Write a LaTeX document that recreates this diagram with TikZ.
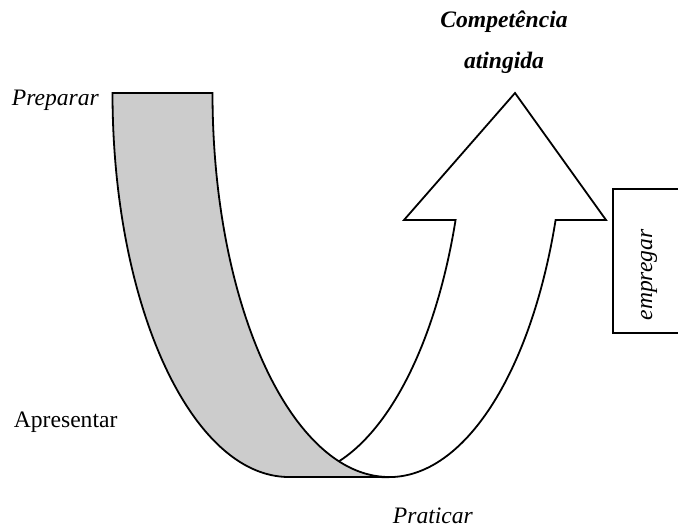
\documentclass[tikz,border=0pt]{standalone}
\usepackage{fontspec}
\setmainfont{Liberation Serif}
\begin{document}
\begin{tikzpicture}[x=0.5pt,y=-0.5pt,line width=0.9pt,line join=miter,
    txt/.style={inner sep=0pt, font=\fontsize{11.8}{14}\selectfont},
    band/.style={draw=black, fill=black!20},
    seta/.style={draw=black, fill=white}]
    \useasboundingbox (0,0) rectangle (678,531);
    % arrow going up
    \draw[seta] (289,477) arc[start angle=90, end angle=19.3, x radius=176.5, y radius=384]
      -- (404,220) -- (515,93) -- (606,220) -- (555.6,220)
      arc[start angle=19.3, end angle=90, x radius=176.5, y radius=384] -- cycle;
    % grey band going down
    \draw[band] (112.5,93) -- (212.5,93)
      arc[start angle=180, end angle=90, x radius=176.5, y radius=384] -- (289,477)
      arc[start angle=90, end angle=180, x radius=176.5, y radius=384] -- cycle;
    % box on the right
    \draw (678,189) -- (613,189) -- (613,333) -- (678,333);
    \node[txt, anchor=base west] (preparar) at (11,105) {\itshape Preparar};
    \node[txt, anchor=base west] (apresentar) at (13,427) {Apresentar};
    \node[txt, anchor=base west] (praticar) at (392,523) {\itshape Praticar};
    \node[txt, anchor=base] (comp) at (504,27) {\bfseries\itshape Competência};
    \node[txt, anchor=base] (ating) at (504,68) {\bfseries\itshape atingida};
    \node[txt, anchor=base, rotate=90] (empregar) at (652,275) {\itshape empregar};
  \end{tikzpicture}
\end{document}
